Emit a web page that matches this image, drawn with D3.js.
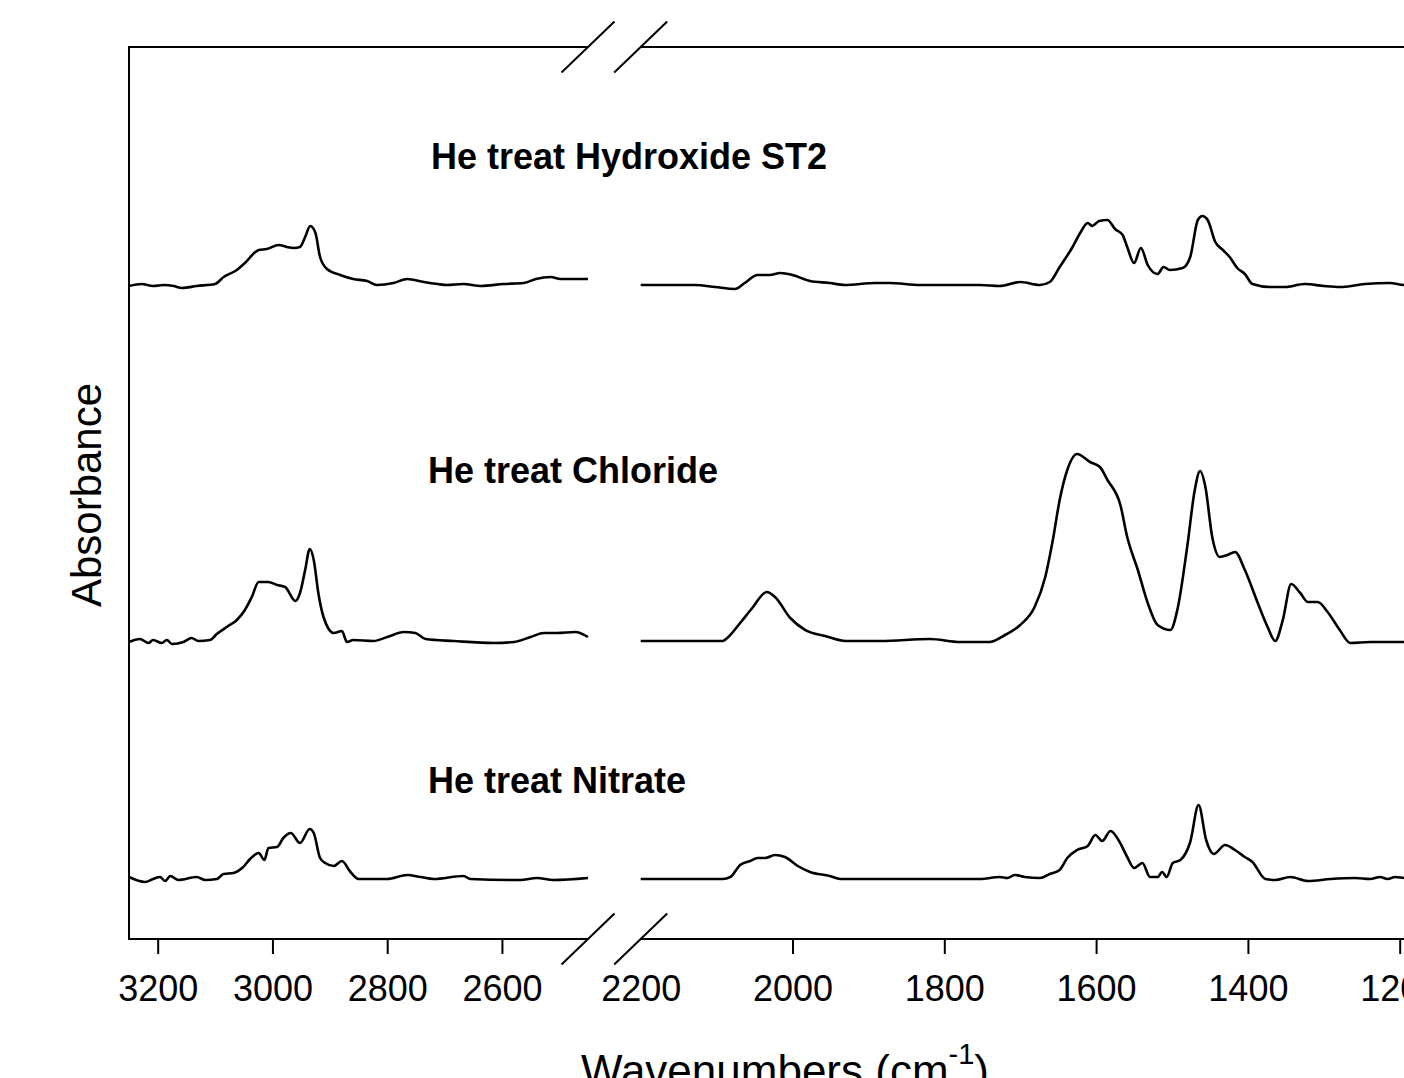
<!DOCTYPE html>
<html>
<head>
<meta charset="utf-8">
<script src="https://cdn.jsdelivr.net/npm/d3@7"></script>
<style>
  html, body { margin: 0; padding: 0; background: #fff; }
  svg { display: block; font-family: "Liberation Sans", Arial, sans-serif; }
</style>
</head>
<body>
<div id="chart"></div>
<script>
// ticks for the two pieces of the broken axis
const leftTicks = [3200, 3000, 2800, 2600];
const rightTicks = [2200, 2000, 1800, 1600, 1400, 1200];

const seriesNames = ["He treat Hydroxide ST2", "He treat Chloride", "He treat Nitrate"];
const seriesOffsets = [6.54, 2.98, 0.60];  // vertical stacking (absorbance units)

// [wavenumber, absorbance above the series baseline]
const hydroxideLeft = [
  [3250, -0.01], [3228, 0.01], [3208, -0.01], [3190, 0.00], [3172, -0.01], [3158, -0.03],
  [3132, -0.01], [3100, 0.01], [3085, 0.08], [3062, 0.15], [3048, 0.22], [3024, 0.35],
  [3010, 0.36], [2989, 0.40], [2975, 0.38], [2963, 0.37], [2952, 0.38], [2943, 0.48],
  [2934, 0.59], [2925, 0.52], [2917, 0.28], [2905, 0.16], [2882, 0.10], [2859, 0.06],
  [2835, 0.04], [2818, 0.00], [2789, 0.02], [2765, 0.06], [2736, 0.03], [2712, 0.01],
  [2696, 0.00], [2667, 0.01], [2637, -0.01], [2597, 0.01], [2562, 0.02], [2541, 0.06],
  [2515, 0.08], [2498, 0.06], [2475, 0.06], [2450, 0.06]
];
const hydroxideRight = [
  [2200, 0.00], [2128, 0.00], [2102, -0.02], [2076, -0.04], [2063, 0.02], [2046, 0.10],
  [2030, 0.10], [2016, 0.12], [2000, 0.10], [1977, 0.04], [1951, 0.02], [1931, 0.00],
  [1891, 0.02], [1872, 0.02], [1832, 0.00], [1753, 0.00], [1727, -0.01], [1700, 0.03],
  [1674, 0.00], [1661, 0.03], [1648, 0.18], [1631, 0.38], [1621, 0.52], [1611, 0.62],
  [1605, 0.59], [1596, 0.64], [1585, 0.65], [1575, 0.56], [1565, 0.50], [1559, 0.38],
  [1550, 0.22], [1541, 0.37], [1532, 0.20], [1519, 0.11], [1511, 0.18], [1503, 0.15],
  [1486, 0.17], [1476, 0.28], [1466, 0.65], [1460, 0.69], [1453, 0.65], [1443, 0.43],
  [1433, 0.35], [1424, 0.28], [1414, 0.17], [1404, 0.11], [1394, 0.01], [1371, -0.02],
  [1351, -0.02], [1325, 0.01], [1300, -0.01], [1279, -0.02], [1246, 0.01], [1213, 0.02],
  [1194, 0.00], [1150, 0.00]
];
const chlorideLeft = [
  [3250, -0.01], [3231, 0.02], [3216, -0.02], [3208, 0.01], [3193, -0.02], [3184, 0.01],
  [3175, -0.03], [3155, -0.01], [3141, 0.03], [3129, 0.00], [3109, 0.01], [3097, 0.07],
  [3077, 0.15], [3062, 0.21], [3048, 0.31], [3036, 0.44], [3024, 0.59], [3007, 0.59],
  [2992, 0.56], [2978, 0.54], [2960, 0.40], [2952, 0.48], [2943, 0.71], [2935, 0.92],
  [2928, 0.81], [2920, 0.48], [2911, 0.24], [2893, 0.08], [2879, 0.10], [2870, -0.01],
  [2859, 0.01], [2824, 0.00], [2800, 0.04], [2771, 0.09], [2751, 0.08], [2733, 0.02],
  [2684, 0.00], [2614, -0.02], [2579, -0.01], [2550, 0.04], [2527, 0.08], [2504, 0.08],
  [2472, 0.09], [2450, 0.04]
];
const chlorideRight = [
  [2200, 0.00], [2092, 0.00], [2086, 0.03], [2069, 0.18], [2053, 0.33], [2034, 0.49],
  [2023, 0.44], [2003, 0.23], [1983, 0.11], [1957, 0.05], [1930, 0.00], [1884, 0.00],
  [1819, 0.02], [1779, -0.01], [1740, -0.01], [1720, 0.06], [1700, 0.16], [1681, 0.34],
  [1667, 0.64], [1657, 1.01], [1648, 1.41], [1638, 1.71], [1625, 1.87], [1608, 1.79],
  [1595, 1.74], [1585, 1.61], [1568, 1.36], [1559, 1.04], [1545, 0.71], [1532, 0.38],
  [1519, 0.16], [1502, 0.11], [1493, 0.31], [1480, 0.94], [1470, 1.51], [1463, 1.70],
  [1456, 1.54], [1447, 1.04], [1437, 0.84], [1427, 0.86], [1417, 0.89], [1404, 0.71],
  [1387, 0.38], [1374, 0.14], [1364, 0.00], [1354, 0.21], [1343, 0.57], [1331, 0.48],
  [1321, 0.39], [1308, 0.39], [1295, 0.29], [1279, 0.11], [1265, -0.02], [1239, -0.01],
  [1194, -0.01], [1150, 0.00]
];
const nitrateLeft = [
  [3250, 0.02], [3222, -0.03], [3208, 0.00], [3196, 0.02], [3187, -0.02], [3178, 0.03],
  [3164, -0.01], [3132, 0.02], [3117, -0.01], [3097, 0.00], [3085, 0.05], [3068, 0.06],
  [3051, 0.12], [3039, 0.20], [3024, 0.26], [3014, 0.19], [3007, 0.31], [2992, 0.32],
  [2981, 0.41], [2968, 0.46], [2952, 0.36], [2935, 0.50], [2928, 0.46], [2917, 0.21],
  [2908, 0.16], [2893, 0.13], [2879, 0.18], [2864, 0.07], [2850, 0.00], [2824, 0.00],
  [2800, 0.00], [2765, 0.04], [2742, 0.02], [2719, 0.00], [2667, 0.03], [2655, 0.00],
  [2568, -0.01], [2539, 0.01], [2510, -0.01], [2450, 0.01]
];
const nitrateRight = [
  [2200, 0.00], [2092, 0.00], [2082, 0.02], [2069, 0.14], [2056, 0.18], [2046, 0.21],
  [2036, 0.21], [2023, 0.24], [2010, 0.22], [1993, 0.13], [1977, 0.07], [1951, 0.03],
  [1937, 0.00], [1911, 0.00], [1753, 0.00], [1727, 0.02], [1717, 0.01], [1707, 0.04],
  [1694, 0.02], [1674, 0.01], [1661, 0.05], [1648, 0.09], [1638, 0.21], [1625, 0.29],
  [1611, 0.33], [1601, 0.44], [1592, 0.38], [1581, 0.48], [1569, 0.37], [1559, 0.22],
  [1550, 0.11], [1539, 0.16], [1529, 0.02], [1519, 0.02], [1513, 0.07], [1507, 0.02],
  [1499, 0.16], [1489, 0.19], [1476, 0.37], [1465, 0.74], [1455, 0.39], [1445, 0.25],
  [1430, 0.34], [1417, 0.29], [1404, 0.22], [1394, 0.17], [1377, 0.00], [1364, -0.01],
  [1344, 0.02], [1321, -0.02], [1291, 0.00], [1259, 0.01], [1239, 0.00], [1226, 0.02],
  [1216, 0.00], [1206, 0.02], [1194, 0.01], [1150, 0.00]
];

const series = [
  { name: seriesNames[0], offset: seriesOffsets[0], left: hydroxideLeft, right: hydroxideRight, labelX: 431, labelY: 169 },
  { name: seriesNames[1], offset: seriesOffsets[1], left: chlorideLeft, right: chlorideRight, labelX: 428, labelY: 483 },
  { name: seriesNames[2], offset: seriesOffsets[2], left: nitrateLeft, right: nitrateRight, labelX: 428, labelY: 793 }
];

const width = 1404, height = 1078;
const plotTop = 47, plotBottom = 939, leftEdge = 129;
const breakL = 588, breakR = 640.7;

const svg = d3.select("#chart").append("svg")
  .attr("width", width)
  .attr("height", height);

const xLeft = d3.scaleLinear().domain([3250, 2450]).range([leftEdge, breakL]);
const xRight = d3.scaleLinear().domain([2200, 1100]).range([breakR, breakR + 1100 * 0.759]);
const y = d3.scaleLinear().domain([0, 8.92]).range([plotBottom, plotTop]);

// frame
const frame = svg.append("g").attr("stroke", "#000").attr("stroke-width", 2).attr("fill", "none");
frame.append("line").attr("x1", leftEdge).attr("x2", leftEdge).attr("y1", plotTop - 1).attr("y2", plotBottom + 1);
[plotTop, plotBottom].forEach(yy => {
  frame.append("line").attr("x1", leftEdge).attr("x2", breakL).attr("y1", yy).attr("y2", yy);
  frame.append("line").attr("x1", breakR).attr("x2", width + 10).attr("y1", yy).attr("y2", yy);
  // break marks
  [breakL, breakR].forEach(bx => {
    frame.append("line")
      .attr("x1", bx - 26.5).attr("y1", yy + 25.5)
      .attr("x2", bx + 26.5).attr("y2", yy - 25.5);
  });
});

// axes
function styleAxis(g) {
  g.select(".domain").remove();
  g.selectAll(".tick line").attr("stroke", "#000").attr("stroke-width", 2);
  g.selectAll(".tick text")
    .attr("fill", "#000")
    .style("font-size", "36px")
    .style("font-family", "'Liberation Sans', Arial, sans-serif");
}
svg.append("g")
  .attr("transform", `translate(0,${plotBottom})`)
  .call(d3.axisBottom(xLeft).tickValues(leftTicks).tickSize(15).tickPadding(21).tickFormat(d3.format("d")))
  .call(styleAxis);
svg.append("g")
  .attr("transform", `translate(0,${plotBottom})`)
  .call(d3.axisBottom(xRight).tickValues(rightTicks).tickSize(15).tickPadding(21).tickFormat(d3.format("d")))
  .call(styleAxis)
  .call(g => g.selectAll(".tick").filter(d => d === 2200).select("line").remove());

// spectra
const lineLeft = d3.line().x(d => xLeft(d[0])).y(d => y(d[1])).curve(d3.curveMonotoneX);
const lineRight = d3.line().x(d => xRight(d[0])).y(d => y(d[1])).curve(d3.curveMonotoneX);

series.forEach(s => {
  const shift = d => [d[0], d[1] + s.offset];
  svg.append("path")
    .attr("d", lineLeft(s.left.map(shift)))
    .attr("fill", "none").attr("stroke", "#000").attr("stroke-width", 2.6)
    .attr("stroke-linejoin", "round");
  svg.append("path")
    .attr("d", lineRight(s.right.map(shift)))
    .attr("fill", "none").attr("stroke", "#000").attr("stroke-width", 2.6)
    .attr("stroke-linejoin", "round");
  svg.append("text")
    .attr("x", s.labelX).attr("y", s.labelY)
    .style("font-size", "36px").style("font-weight", "bold")
    .text(s.name);
});

// axis titles
svg.append("text")
  .attr("transform", "translate(101,495) rotate(-90)")
  .attr("text-anchor", "middle")
  .style("font-size", "42px")
  .text("Absorbance");

const xt = svg.append("text")
  .attr("x", 785).attr("y", 1086)
  .attr("text-anchor", "middle")
  .style("font-size", "44px");
xt.append("tspan").text("Wavenumbers (cm");
xt.append("tspan").attr("dy", -22).style("font-size", "29px").text("-1");
xt.append("tspan").attr("dy", 22).text(")");
</script>
</body>
</html>
